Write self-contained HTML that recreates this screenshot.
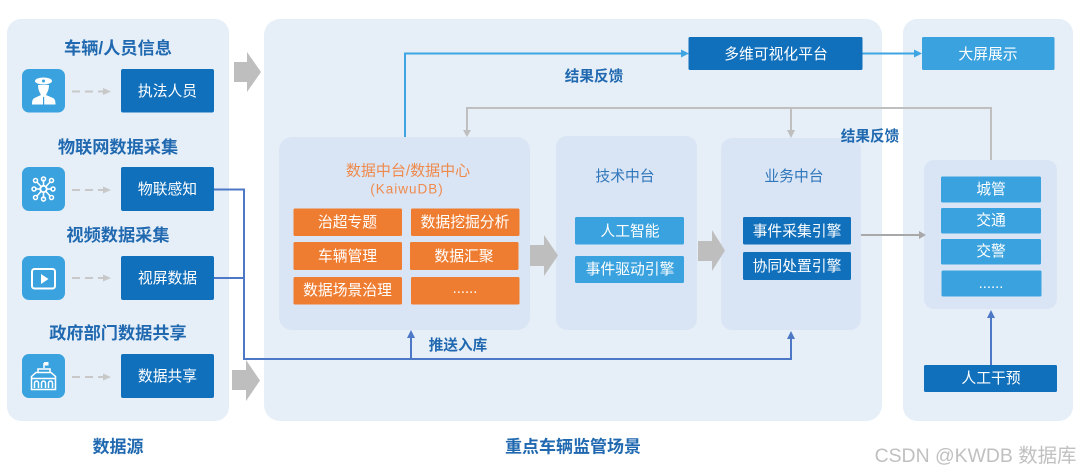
<!DOCTYPE html>
<html lang="zh">
<head>
<meta charset="utf-8">
<title>重点车辆监管场景</title>
<style>
html,body{margin:0;padding:0;background:#fff;width:1080px;height:473px;overflow:hidden}
svg{display:block}
text{font-family:"Liberation Sans","Noto Sans CJK SC",sans-serif;text-anchor:middle;dominant-baseline:central;transform:translateY(1px)}
.t{font-size:17.2px;font-weight:700;fill:#2069b0}
.w{font-size:14.8px;fill:#fff}
.c{font-size:14.8px;fill:#2f76bb}
.l{font-size:14.600px;font-weight:700;fill:#2069b0}
.d{fill:#1170bb}
.b{fill:#3aa2de}
.o{fill:#ef7d31}
.g{fill:#bebebe}
.dash{stroke:#c8c8c8;stroke-width:2;stroke-dasharray:8 5;fill:none}
</style>
</head>
<body>
<svg width="1080" height="473" viewBox="0 0 1080 473" xmlns="http://www.w3.org/2000/svg">
<rect width="1080" height="473" fill="#fff"/>
<!-- panels -->
<rect x="7" y="19" width="222" height="402" rx="14" fill="#e6eff8"/>
<rect x="264" y="19" width="618" height="402" rx="16" fill="#e6eff8"/>
<rect x="903" y="19" width="170" height="402" rx="14" fill="#e6eff8"/>
<rect x="279" y="137" width="251" height="193" rx="13" fill="#d9e5f5"/>
<rect x="556" y="136" width="141" height="194" rx="11" fill="#d9e5f5"/>
<rect x="721" y="138" width="140" height="192" rx="11" fill="#d9e5f5"/>
<rect x="924" y="160" width="133" height="149" rx="10" fill="#d9e5f5"/>

<!-- big arrows -->
<polygon class="g" points="234,62 247,62 247,52 261,72 247,92 247,82 234,82"/>
<polygon class="g" points="232,370 246,370 246,360 260,380.500 246,401 246,390 232,390"/>
<polygon class="g" points="530,245 544,245 544,235 558,255.500 544,276 544,266 530,266"/>
<polygon class="g" points="698,241 712,241 712,230 725,250.500 712,271 712,261 698,261"/>

<!-- connectors -->
<g fill="none">
<path d="M405 137V53.500H683" stroke="#3ea5e2" stroke-width="2"/>
<path d="M862 53.500H917" stroke="#3ea5e2" stroke-width="2"/>
<path d="M991 160V108H467V131M791 108V133" stroke="#bfbfbf" stroke-width="2"/>
<path d="M861 235H921" stroke="#a8a8a8" stroke-width="2"/>
<path d="M214 189.500H244V359H791V336M214 278H244M411 359V336M991 365V316" stroke="#4c78c6" stroke-width="2"/>
</g>
<polygon fill="#3ea5e2" points="681,49.500 689,53.500 681,57.500"/>
<polygon fill="#3ea5e2" points="914,49.500 922,53.500 914,57.500"/>
<polygon fill="#bfbfbf" points="463,130 471,130 467,137"/>
<polygon fill="#bfbfbf" points="787,130 795,130 791,138"/>
<polygon fill="#a8a8a8" points="919,231 926,235 919,239"/>
<polygon fill="#4c78c6" points="407,338 415,338 411,330"/>
<polygon fill="#4c78c6" points="787,339 795,339 791,331"/>
<polygon fill="#4c78c6" points="987,318 995,318 991,310"/>

<!-- left column titles -->
<text class="t" x="118" y="47">车辆/人员信息</text>
<text class="t" x="118" y="146">物联网数据采集</text>
<text class="t" x="118" y="234">视频数据采集</text>
<text class="t" x="118" y="332">政府部门数据共享</text>

<!-- icon tiles -->
<rect class="b" x="22" y="69" width="43" height="43.500" rx="7"/>
<rect class="b" x="22" y="167" width="43" height="44" rx="7"/>
<rect class="b" x="22" y="256" width="43" height="44" rx="7"/>
<rect class="b" x="22" y="354" width="43" height="44" rx="7"/>

<!-- officer icon -->
<g fill="#fff">
<ellipse cx="43.500" cy="81" rx="8.500" ry="3.500"/>
<path d="M38 85H49C49 90 47 93 46 95L53 98C55 99 55.500 101 55.500 104.500H32C32 101 32.500 99 34.500 98L41 95C40 93 38 90 38 85Z"/>
</g>
<circle cx="43.500" cy="81" r="1.500" fill="#3aa2de"/>
<rect x="43" y="97" width="1.200" height="7.500" fill="#3aa2de"/>

<!-- IoT icon -->
<g fill="none" stroke="#fff" stroke-width="1.500">
<circle cx="43.500" cy="189" r="3.200" stroke-width="1.900"/>
<path d="M43.500 186V179.500M43.500 192V198.500M40.500 189H35M46.500 189H52M41 186.500L36.500 181.500M46 186.500L50.500 181.500M41 191.500L36.500 196.500M46 191.500L50.500 196.500"/>
<circle cx="35.500" cy="180.500" r="2"/>
<circle cx="43.500" cy="179" r="2"/>
<circle cx="51.500" cy="180.500" r="2"/>
<circle cx="35.500" cy="197.500" r="2"/>
<circle cx="43.500" cy="199" r="2"/>
<circle cx="51.500" cy="197.500" r="2"/>
<circle cx="34" cy="189" r="2"/>
<circle cx="53" cy="189" r="2"/>
</g>

<!-- video icon -->
<rect x="32" y="269" width="23" height="19.500" rx="2.500" fill="none" stroke="#fff" stroke-width="2"/>
<polygon fill="#fff" points="41,274 41,284 48.500,279"/>

<!-- building icon -->
<g fill="none" stroke="#fff" stroke-width="1.500">
<path d="M44 368V363"/>
<path d="M38 372.500V369H50V372.500"/>
<path d="M31.500 376.500L36 372.500H51L55.500 376.500V389.500H31.500Z"/>
<path d="M31.500 378.500H55.500"/>
<path d="M34.500 388V383C34.500 380.500 38.500 380.500 38.500 383V388M41.500 388V383C41.500 380.500 45.500 380.500 45.500 383V388M48.500 388V383C48.500 380.500 52.500 380.500 52.500 383V388"/>
</g>
<polygon fill="#fff" points="44,362 48.500,362 48.500,365.500 44,365.500"/>

<!-- dashed arrows -->
<path class="dash" d="M72 91.500H104"/>
<path class="dash" d="M72 190H104"/>
<path class="dash" d="M72 278H104"/>
<path class="dash" d="M72 377H104"/>
<polygon fill="#c8c8c8" points="103,88 111,91.500 103,95"/>
<polygon fill="#c8c8c8" points="103,186.500 111,190 103,193.500"/>
<polygon fill="#c8c8c8" points="103,274.500 111,278 103,281.500"/>
<polygon fill="#c8c8c8" points="103,373.500 111,377 103,380.500"/>

<!-- source boxes -->
<rect class="d" x="121" y="69" width="93" height="43.500" rx="2"/>
<rect class="d" x="121" y="167" width="93" height="44" rx="2"/>
<rect class="d" x="121" y="256" width="93" height="44" rx="2"/>
<rect class="d" x="121" y="354" width="93" height="44" rx="2"/>
<text class="w" x="167.500" y="91">执法人员</text>
<text class="w" x="167.500" y="189">物联感知</text>
<text class="w" x="167.500" y="278">视屏数据</text>
<text class="w" x="167.500" y="376">数据共享</text>

<!-- data platform -->
<text x="408" y="170" style="font-size:15px;fill:#ef8a4d">数据中台/数据中心</text>
<text x="407" y="188" style="font-size:13.500px;fill:#ef8a4d;letter-spacing:1px">(KaiwuDB)</text>
<rect class="o" x="293.500" y="208.500" width="108.500" height="27.500" rx="1.500"/>
<rect class="o" x="411" y="208.500" width="108.500" height="27.500" rx="1.500"/>
<rect class="o" x="293.500" y="242" width="108.500" height="28" rx="1.500"/>
<rect class="o" x="410" y="242" width="108.500" height="28" rx="1.500"/>
<rect class="o" x="293.500" y="277" width="108.500" height="27.500" rx="1.500"/>
<rect class="o" x="411" y="277" width="108.500" height="27.500" rx="1.500"/>
<text class="w" x="347.500" y="222">治超专题</text>
<text class="w" x="465" y="222">数据挖掘分析</text>
<text class="w" x="347.500" y="256">车辆管理</text>
<text class="w" x="464" y="256">数据汇聚</text>
<text class="w" x="347.500" y="290">数据场景治理</text>
<text class="w" x="465" y="288">......</text>

<!-- tech -->
<text class="c" x="625" y="176">技术中台</text>
<rect class="b" x="575" y="217" width="109" height="27.500" rx="1.500"/>
<rect class="b" x="575" y="256" width="109" height="27" rx="1.500"/>
<text class="w" x="630" y="231">人工智能</text>
<text class="w" x="630" y="269">事件驱动引擎</text>

<!-- business -->
<text class="c" x="794" y="176">业务中台</text>
<rect class="d" x="743" y="217" width="108" height="27.500" rx="1.500"/>
<rect class="d" x="743" y="252" width="108" height="28" rx="1.500"/>
<text class="w" x="797" y="231">事件采集引擎</text>
<text class="w" x="797" y="266">协同处置引擎</text>

<!-- top -->
<rect class="d" x="688.500" y="37" width="174" height="33" rx="1.500"/>
<text class="w" x="776" y="54">多维可视化平台</text>
<rect class="b" x="922" y="37" width="132.500" height="33" rx="1.500"/>
<text class="w" x="988" y="54">大屏展示</text>

<!-- right -->
<rect class="b" x="941" y="176.500" width="100" height="26" rx="1.500"/>
<rect class="b" x="941" y="208" width="100" height="25.500" rx="1.500"/>
<rect class="b" x="941" y="239" width="100" height="25.500" rx="1.500"/>
<rect class="b" x="941.500" y="270.500" width="100" height="26" rx="1.500"/>
<text class="w" x="991" y="189">城管</text>
<text class="w" x="991" y="220">交通</text>
<text class="w" x="991" y="251">交警</text>
<text class="w" x="991" y="283">......</text>
<rect class="d" x="924" y="365" width="133" height="27" rx="1.500"/>
<text class="w" x="991" y="378">人工干预</text>

<!-- labels -->
<text class="l" x="594" y="76">结果反馈</text>
<text class="l" x="870" y="136">结果反馈</text>
<text class="l" x="458" y="345">推送入库</text>
<text class="t" x="118" y="446" style="font-size:17px">数据源</text>
<text class="t" x="573" y="446" style="font-size:17px">重点车辆监管场景</text>
<text x="975.500" y="455" style="font-size:19.400px;fill:#c0c0c0">CSDN @KWDB 数据库</text>
</svg>
</body>
</html>
